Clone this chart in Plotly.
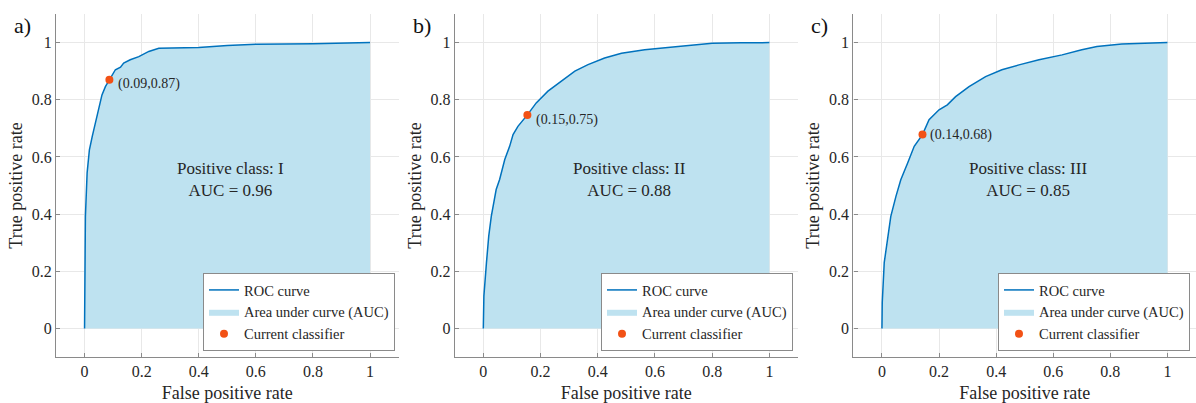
import plotly.graph_objects as go

# ---------------- data ----------------
fpr_a = [0.0, 0.001, 0.003, 0.009, 0.017, 0.027, 0.038, 0.05, 0.061, 0.073, 0.087, 0.096, 0.108,
         0.126, 0.137, 0.16, 0.19, 0.225, 0.26, 0.306, 0.4, 0.5, 0.6, 0.8, 0.9, 1.0]
tpr_a = [0.0, 0.10, 0.392, 0.544, 0.625, 0.672, 0.718, 0.776, 0.817, 0.846, 0.87, 0.887, 0.905,
         0.914, 0.928, 0.94, 0.951, 0.969, 0.98, 0.981, 0.983, 0.99, 0.994, 0.996, 0.998, 1.0]

fpr_b = [0.0, 0.002, 0.011, 0.019, 0.028, 0.034, 0.045, 0.057, 0.075, 0.092, 0.104, 0.121, 0.154,
         0.185, 0.226, 0.273, 0.32, 0.366, 0.424, 0.483, 0.564, 0.681, 0.8, 0.9, 1.0]
tpr_b = [0.0, 0.113, 0.23, 0.323, 0.393, 0.428, 0.486, 0.521, 0.591, 0.637, 0.678, 0.707, 0.747,
         0.789, 0.83, 0.865, 0.9, 0.923, 0.946, 0.963, 0.975, 0.986, 0.998, 0.999, 1.0]

fpr_c = [0.0, 0.001, 0.008, 0.02, 0.031, 0.049, 0.066, 0.09, 0.113, 0.142, 0.165, 0.2, 0.229,
         0.258, 0.305, 0.363, 0.42, 0.48, 0.55, 0.631, 0.70, 0.753, 0.84, 0.92, 1.0]
tpr_c = [0.0, 0.09, 0.23, 0.322, 0.392, 0.462, 0.52, 0.579, 0.637, 0.678, 0.73, 0.765, 0.782,
         0.811, 0.846, 0.881, 0.905, 0.922, 0.94, 0.957, 0.975, 0.986, 0.995, 0.998, 1.0]

op_x = [0.087, 0.154, 0.142]
op_y = [0.87, 0.747, 0.678]
op_labels = ["(0.09,0.87)", "(0.15,0.75)", "(0.14,0.68)"]
class_names = ["I", "II", "III"]
auc_values = [0.96, 0.88, 0.85]
panel_labels = ["a)", "b)", "c)"]
tick_vals = [0, 0.2, 0.4, 0.6, 0.8, 1]
tick_text = ["0", "0.2", "0.4", "0.6", "0.8", "1"]

# ---------------- styling ----------------
FONT = "Liberation Serif, Times New Roman, serif"
LINE_C = "#0072BD"
FILL_C = "#BEE2F0"
DOT_C = "#F25115"
AX_C = "#8a8a8a"
GRID_C = "#e8e8e8"
W, H = 1196, 403

x_px = [(56, 398.6), (454.7, 798.0), (853.4, 1196.0)]
y_px = (14, 357)
curves = [(fpr_a, tpr_a), (fpr_b, tpr_b), (fpr_c, tpr_c)]
legend_right_px = [395, 793, 1190]
legend_bottom_px = 351
label_yshift = [-4, -5, 0]
label_xshift = [7, 7, 6]

fig = go.Figure()
layout = dict(
    width=W, height=H, margin=dict(l=0, r=0, t=0, b=0),
    paper_bgcolor="white", plot_bgcolor="white",
    font=dict(family=FONT, color="#262626", size=15),
    showlegend=True, template="none",
)
annotations = []

for i in range(3):
    sfx = "" if i == 0 else str(i + 1)
    xa, ya = "x" + sfx, "y" + sfx
    leg = "legend" if i == 0 else "legend" + str(i + 1)
    fx, fy = curves[i]
    x0, x1 = x_px[i]
    scale = (x1 - x0) / 1.2
    xmax = -0.1 + (min(x1, W) - x0) / scale

    fig.add_trace(go.Scatter(x=fx, y=fy, mode="lines", line=dict(width=0, color=FILL_C),
                             fill="tozeroy", fillcolor=FILL_C, name="Area under curve (AUC)",
                             xaxis=xa, yaxis=ya, legend=leg, legendrank=2, hoverinfo="skip"))
    fig.add_trace(go.Scatter(x=fx, y=fy, mode="lines", line=dict(width=1.5, color=LINE_C),
                             name="ROC curve", xaxis=xa, yaxis=ya, legend=leg, legendrank=1))
    fig.add_trace(go.Scatter(x=[op_x[i]], y=[op_y[i]], mode="markers",
                             marker=dict(size=8, color=DOT_C),
                             name="Current classifier", xaxis=xa, yaxis=ya, legend=leg, legendrank=3))

    axis_common = dict(
        showgrid=True, gridcolor=GRID_C, gridwidth=1, zeroline=False,
        showline=True, linecolor=AX_C, linewidth=1.2, mirror=False,
        ticks="inside", ticklen=4, tickcolor=AX_C,
        tickvals=tick_vals, ticktext=tick_text,
        tickfont=dict(family=FONT, size=16, color="#262626"),
        automargin=False, fixedrange=True,
    )
    layout["xaxis" + sfx] = dict(
        axis_common, domain=[x0 / W, min(x1, W) / W], range=[-0.1, xmax],
        anchor=ya,
        title=dict(text="False positive rate", font=dict(family=FONT, size=18, color="#262626"),
                   standoff=10),
    )
    layout["yaxis" + sfx] = dict(
        axis_common, domain=[1 - y_px[1] / H, 1 - y_px[0] / H], range=[-0.1, 1.1],
        anchor=xa,
        title=dict(text="True positive rate", font=dict(family=FONT, size=18, color="#262626"),
                   standoff=4),
    )
    layout[leg] = dict(
        x=legend_right_px[i] / W, y=1 - legend_bottom_px / H, xanchor="right", yanchor="bottom",
        bgcolor="white", bordercolor="#8a8a8a", borderwidth=1,
        font=dict(family=FONT, size=14.5, color="#262626"),
        tracegroupgap=0, itemwidth=30,
    )
    annotations.append(dict(
        x=0.51, y=0.52, xref=xa, yref=ya, showarrow=False,
        text=f"Positive class: {class_names[i]}<br>AUC = {auc_values[i]:.2f}",
        font=dict(family=FONT, size=17, color="#262626"), align="center",
    ))
    annotations.append(dict(
        x=op_x[i], y=op_y[i], xref=xa, yref=ya, showarrow=False,
        xanchor="left", yanchor="middle", xshift=label_xshift[i], yshift=label_yshift[i],
        text=op_labels[i],
        font=dict(family=FONT, size=14, color="#262626"),
    ))
    annotations.append(dict(
        x=(x0 - 44) / W, y=1 - 26 / H, xref="paper", yref="paper", showarrow=False,
        xanchor="left", yanchor="middle", text=panel_labels[i],
        font=dict(family=FONT, size=22, color="#111111"),
    ))

layout["annotations"] = annotations
fig.update_layout(**layout)
fig.write_html(
    "out.html",
    config={"displayModeBar": False},
    post_script="document.body.style.margin='0';document.body.style.overflow='hidden';",
)
